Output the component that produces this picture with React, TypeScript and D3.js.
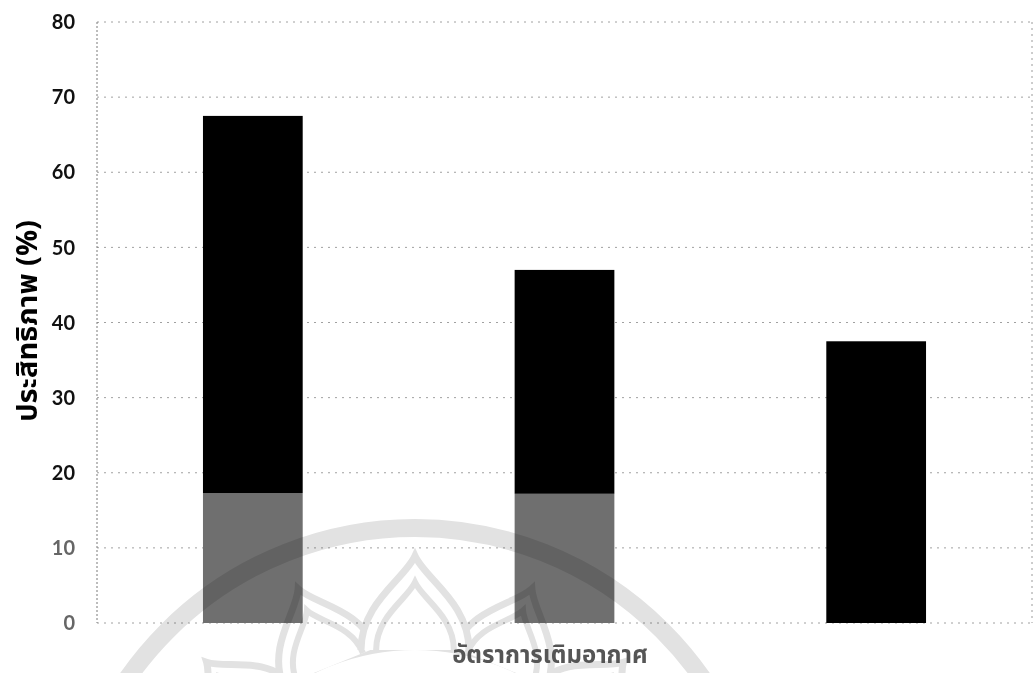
import React from "react";
import * as d3 from "d3";

// Aeration-rate groups (no tick labels are printed under the bars)
const rates = ["rate1", "rate2", "rate3"];
// Lower (grey) and upper (black) stacked portions, %
const greyPart = [17.3, 17.2, 0];
const blackPart = [50.2, 29.8, 37.5];
const yTicks = [0, 10, 20, 30, 40, 50, 60, 70, 80];

const yTitle = "ประสิทธิภาพ (%)";
const xTitle = "อัตราการเติมอากาศ";

const W = 1035;
const H = 673;
const M = { left: 97, right: 1032, top: 22, bottom: 623 };

const thaiFont = "'Noto Sans Thai', 'Noto Sans', Tahoma, 'DejaVu Sans', sans-serif";

export default function App() {
  const x = d3.scaleBand<string>().domain(rates).range([M.left, M.right]).paddingInner(0.68).paddingOuter(0.34);
  const y = d3.scaleLinear().domain([0, 80]).range([M.bottom, M.top]);

  const rows = rates.map((r, i) => ({ r, g: greyPart[i], b: blackPart[i] }));
  const stack = d3.stack<any>().keys(["g", "b"])(rows);
  const fills: Record<string, string> = { g: "#6f6f6f", b: "#000000" };

  // seal watermark geometry
  const cx = 415;
  const cy = 878;
  const petal = (w: number, h: number) =>
    `M${-w},0 C${-w},${-h * 0.5} ${-w * 0.2},${-h * 0.75} 0,${-h} C${w * 0.2},${-h * 0.75} ${w},${-h * 0.5} ${w},0`;
  const petals = [
    { a: -44, h: 72, w: 46 },
    { a: 44, h: 72, w: 46 },
    { a: -22, h: 84, w: 50 },
    { a: 22, h: 84, w: 50 },
    { a: 0, h: 94, w: 54 },
  ];

  const grid = d3.line<[number, number]>();

  return (
    <svg width={W} height={H} style={{ position: "absolute", left: 0, top: 0, background: "#fff" }}>
      <rect x={0} y={0} width={W} height={H} fill="#fff" />
      {/* gridlines */}
      {yTicks.map((t) => (
        <path
          key={t}
          d={grid([[M.left, y(t)], [M.right, y(t)]]) || ""}
          stroke="#a0a0a0"
          strokeWidth={1}
          strokeDasharray="2 5"
          fill="none"
        />
      ))}
      {/* plot frame: left axis and right border */}
      <line x1={M.left} x2={M.left} y1={M.top} y2={M.bottom} stroke="#7a7a7a" strokeDasharray="2 2" />
      <line x1={M.right} x2={M.right} y1={M.top} y2={M.bottom} stroke="#9a9a9a" strokeDasharray="2 4" />

      {/* stacked bars */}
      {stack.map((layer) => (
        <g key={layer.key} fill={fills[layer.key]}>
          {layer.map((d, i) =>
            d[1] - d[0] > 0 ? (
              <rect
                key={i}
                x={x(rates[i])}
                y={y(d[1])}
                width={x.bandwidth()}
                height={y(d[0]) - y(d[1])}
              />
            ) : null
          )}
        </g>
      ))}

      {/* seal watermark */}
      <g style={{ mixBlendMode: "multiply" }} fill="none" stroke="#e2e2e2">
        <circle cx={cx} cy={cy} r={350} strokeWidth={18} />
        <circle cx={cx} cy={cy} r={232} strokeWidth={8} />
        {petals.map((p, i) => (
          <g key={i} transform={`translate(${cx},${cy}) rotate(${p.a}) translate(0,-228)`}>
            <path d={petal(p.w, p.h)} strokeWidth={7} fill="#fff" />
            <path d={petal(p.w * 0.72, p.h * 0.72)} strokeWidth={6} />
          </g>
        ))}
      </g>

      {/* y tick labels */}
      {yTicks.map((t) => (
        <text
          key={t}
          x={75}
          y={y(t)}
          dy="0.36em"
          textAnchor="end"
          fontFamily="Lato, 'Open Sans', sans-serif"
          fontWeight={700}
          fontSize={20}
          fill={t <= 10 ? "#666" : "#111"}
        >
          {t}
        </text>
      ))}

      {/* axis titles */}
      <text
        transform={`translate(27,321) rotate(-90)`}
        textAnchor="middle"
        dy="0.35em"
        fontFamily={thaiFont}
        fontWeight={700}
        fontSize={29}
        fill="#000"
      >
        {yTitle}
      </text>
      <text
        x={550}
        y={663}
        textAnchor="middle"
        fontFamily={thaiFont}
        fontWeight={700}
        fontSize={24}
        fill="#555"
      >
        {xTitle}
      </text>
    </svg>
  );
}
